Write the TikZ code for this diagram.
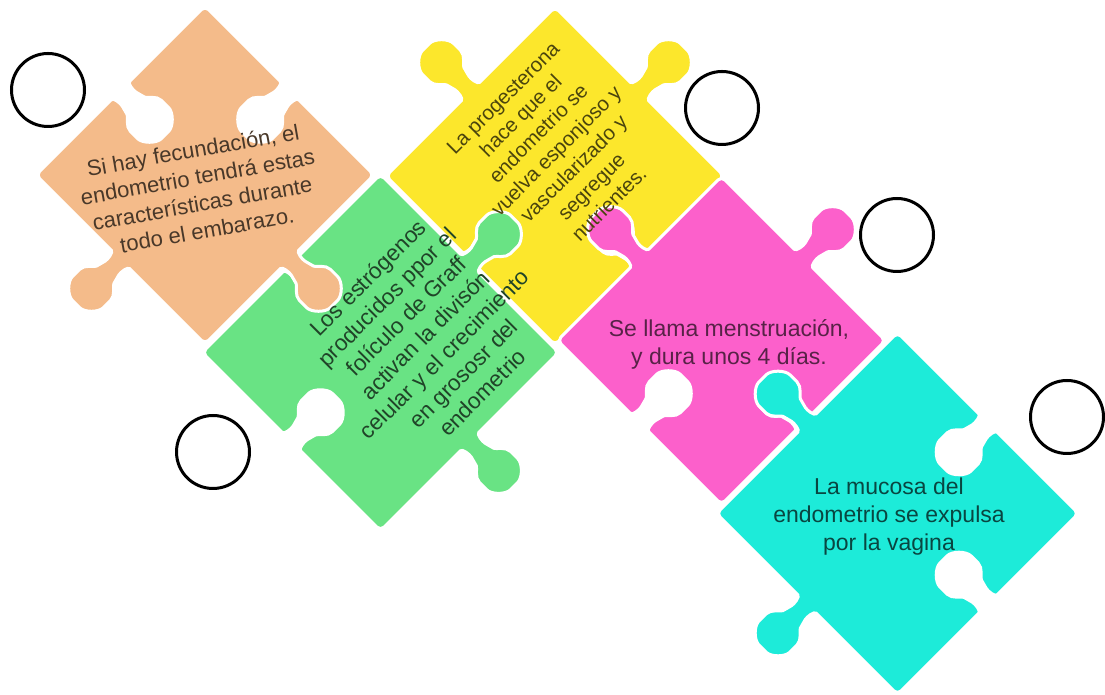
\documentclass[tikz,border=0pt]{standalone}
\usepackage{fontspec}
\setmainfont{Liberation Sans}

\definecolor{peach}{HTML}{F4BB8A}
\definecolor{lemon}{HTML}{FCE72C}
\definecolor{mint}{HTML}{69E384}
\definecolor{rosa}{HTML}{FC60CB}
\definecolor{turq}{HTML}{1DEBD9}

% one knob on an edge lying on the x axis, pointing to +y
\newcommand\knob{-- (-18,0) .. controls (-10,0) and (-9,9) .. (-11,17)
  .. controls (-13,24) and (-22,29) .. (-22,41)
  .. controls (-22,53) and (-12,63) .. (0,63)
  .. controls (12,63) and (22,53) .. (22,41)
  .. controls (22,29) and (13,24) .. (11,17)
  .. controls (9,9) and (10,0) .. (18,0)}

% x, y, half side, colour, then top/right/bottom/left: 1 = tab, -1 = hole
\newcommand\piece[8]{%
  \begin{scope}[shift = {(#1,#2)}, rotate = 45]
    \filldraw[pce, fill = #4] (-#3,#3)
      {[shift = {(0,#3)}, yscale = #5, xscale = {abs(#5)}] \knob} -- (#3,#3)
      {[shift = {(#3,0)}, rotate = -90, yscale = #6, xscale = {abs(#6)}] \knob} -- (#3,-#3)
      {[shift = {(0,-#3)}, rotate = 180, yscale = #7, xscale = {abs(#7)}] \knob} -- (-#3,-#3)
      {[shift = {(-#3,0)}, rotate = 90, yscale = #8, xscale = {abs(#8)}] \knob} -- cycle;
  \end{scope}}

\begin{document}
\begin{tikzpicture}[x = 1pt, y = 1pt,
    pce/.style = {draw = white, line width = 3pt, rounded corners = 5pt},
    ring/.style = {shape = circle, draw, line width = 3pt, minimum size = 73pt, inner sep = 0pt},
    txt/.style = {align = center, inner sep = 0pt, font = \fontsize{23}{28}\selectfont}]
    \useasboundingbox (0,0) rectangle (1105,695);

    % holes that take a tab are a bit smaller (-0.9)
    \piece{555}{519}{119.5}{lemon}{1}{1}{-0.9}{-0.9}
    \piece{380.5}{342.5}{126}{mint}{-0.9}{1}{1}{-1}
    \piece{205}{520}{119.5}{peach}{-1}{-1}{1}{1}
    \piece{721.5}{354.5}{116}{rosa}{1}{1}{-0.9}{-1}
    \piece{897.5}{181.5}{128}{turq}{1}{-1}{-1}{1}

    \node[txt, rotate = 10, text = peach!30!black, font = \fontsize{22}{27}\selectfont] (fecundacion) at (200,505)
        {Si hay fecundación, el\\endometrio tendrá estas\\características durante\\todo el embarazo.};
    \node[txt, rotate = 45, text = lemon!30!black, font = \fontsize{20.5}{25}\selectfont] (progesterona) at (556,544)
        {La progesterona\\hace que el\\endometrio se\\vuelva esponjoso y\\vascularizado y\\segregue\\nutrientes.};
    \node[txt, rotate = 45, text = mint!30!black, font = \fontsize{22.5}{27}\selectfont] (estrogenos) at (425,360)
        {Los estrógenos\\producidos ppor el\\folículo de Graff\\activan la divisón\\celular y el crecimiento\\en grososr del\\endometrio};
    \node[txt, text = rosa!35!black] (menstruacion) at (729,351)
        {Se llama menstruación,\\y dura unos 4 días.};
    \node[txt, text = turq!30!black] (mucosa) at (889,178)
        {La mucosa del\\endometrio se expulsa\\por la vagina};

    \node[ring] (c1) at (48,605) {};
    \node[ring] (c2) at (722,587) {};
    \node[ring] (c3) at (213,243) {};
    \node[ring] (c4) at (897,460) {};
    \node[ring] (c5) at (1067,278) {};
\end{tikzpicture}
\end{document}
